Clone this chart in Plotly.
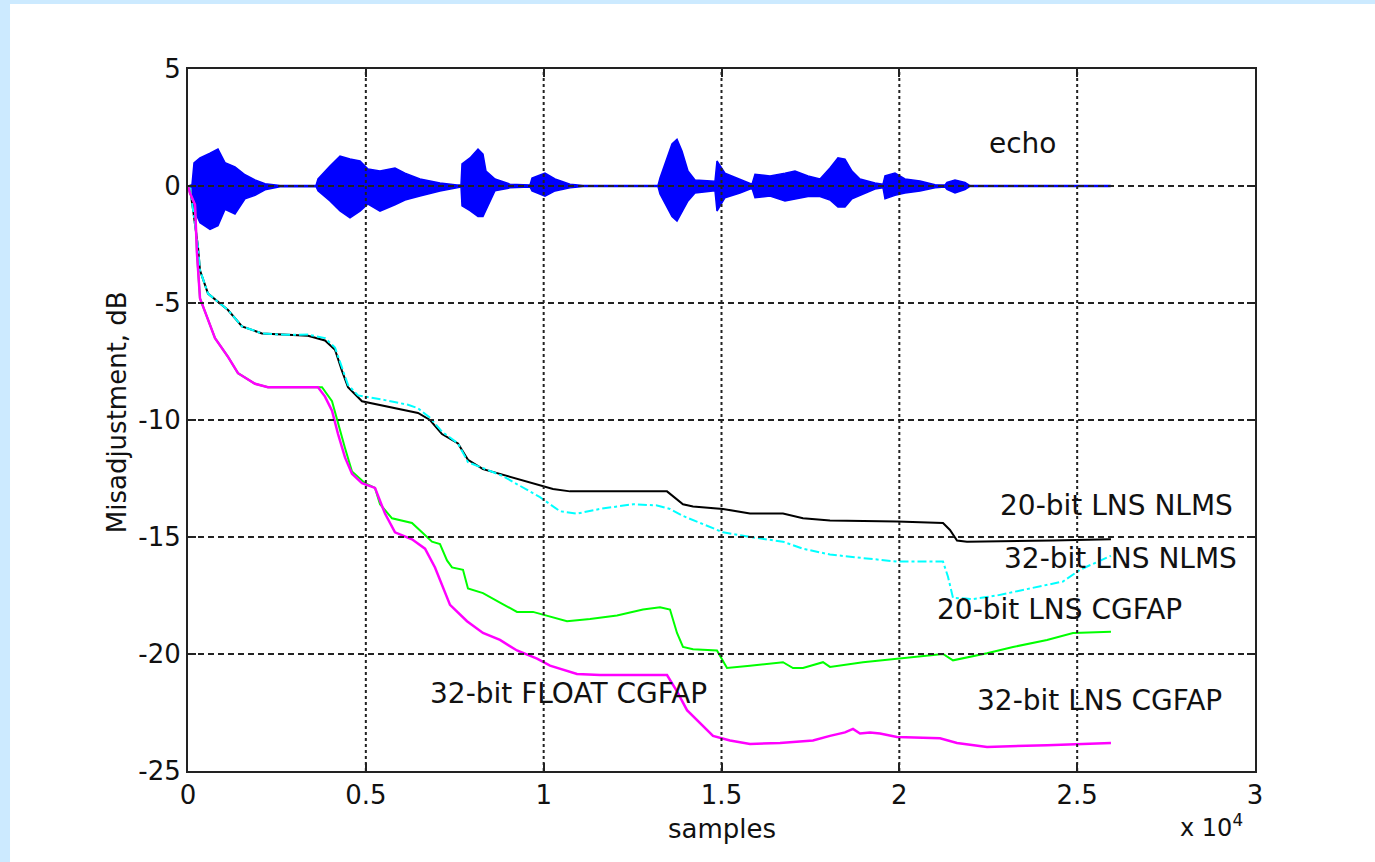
import plotly.graph_objects as go

# ---------------- data ----------------
# x tick values (samples) and labels (x 10^4)
x_tickvals = [0, 5000, 10000, 15000, 20000, 25000, 30000]
x_ticktext = ["0", "0.5", "1", "1.5", "2", "2.5", "3"]
y_tickvals = [-25, -20, -15, -10, -5, 0, 5]
y_ticktext = ["-25", "-20", "-15", "-10", "-5", "0", "5"]

# echo envelope (samples, upper, lower)
echo_x = [0, 112, 169, 337, 619, 843, 1040, 1321, 1603, 1884, 2165, 2587, 3599, 3655, 3992,
          4274, 4555, 4836, 5061, 5398, 5820, 6101, 6523, 7085, 7563, 7676, 7704, 7929, 8154,
          8294, 8379, 8632, 9053, 9616, 9672, 10037, 10319, 10740, 11106, 13215, 13271, 13411,
          13608, 13749, 13889, 14058, 14255, 14817, 14873, 15098, 15520, 15857, 15942, 16364,
          16785, 17066, 17432, 17769, 18050, 18275, 18472, 18669, 18894, 19316, 19541, 19597,
          19878, 20159, 20581, 21003, 21284, 21340, 21565, 21846, 21987, 25923]
echo_upper = [0, 0.05, 0.99, 1.2, 1.4, 1.58, 1.0, 0.82, 0.48, 0.26, 0.1, 0.02, 0.02, 0.3, 0.85,
              1.28, 1.15, 1.07, 0.73, 0.64, 0.77, 0.55, 0.3, 0.13, 0.04, 0.04, 0.94, 1.2, 1.58,
              1.36, 0.64, 0.3, 0.08, 0.04, 0.34, 0.55, 0.3, 0.08, 0.02, 0.02, 0.34, 0.94,
              1.8, 2.0, 1.5, 0.64, 0.26, 0.2, 1.07, 0.55, 0.3, 0.08, 0.5, 0.43,
              0.55, 0.64, 0.43, 0.3, 0.77, 1.2, 1.15, 0.64, 0.3, 0.13, 0.08, 0.43,
              0.55, 0.3, 0.21, 0.05, 0.04, 0.15, 0.26, 0.15, 0.02, 0.02]
echo_lower = [0, -0.05, -1.0, -1.57, -1.85, -1.7, -1.0, -1.2, -0.55, -0.4, -0.16, -0.03, -0.02, -0.2, -0.64,
              -1.07, -1.36, -1.07, -0.77, -1.07, -0.8, -0.6, -0.43, -0.21, -0.08, -0.04, -0.85, -1.05, -1.3,
              -1.3, -1.0, -0.2, -0.08, -0.04, -0.21, -0.43, -0.21, -0.08, -0.02, -0.02, -0.34, -0.75,
              -1.3, -1.5, -1.1, -0.64, -0.3, -0.2, -1.07, -0.5, -0.3, -0.1, -0.5, -0.43,
              -0.64, -0.55, -0.45, -0.45, -0.6, -0.9, -0.9, -0.55, -0.4, -0.13, -0.08, -0.55,
              -0.4, -0.3, -0.21, -0.08, -0.04, -0.15, -0.3, -0.15, -0.02, -0.02]

# 20-bit LNS NLMS (black)
nlms20_x = [0, 56, 141, 225, 281, 337, 562, 1125, 1518, 2081, 2727, 3374, 3852, 4133, 4330, 4499,
            4892, 5539, 6467, 6804, 7141, 7591, 7872, 8294, 9250, 9897, 10262, 10740, 13468, 13917,
            14199, 15042, 15801, 16729, 17291, 18050, 19934, 21228, 21424, 21621, 21902, 24320, 25950]
nlms20_y = [0, -0.1, -1.0, -2.0, -2.6, -3.6, -4.6, -5.3, -6.0, -6.3, -6.36, -6.4, -6.6, -7.0, -7.9, -8.6,
            -9.2, -9.4, -9.7, -10.0, -10.6, -11.0, -11.7, -12.1, -12.5, -12.8, -12.95, -13.05, -13.05, -13.6,
            -13.7, -13.8, -14.0, -14.0, -14.2, -14.3, -14.34, -14.4, -14.7, -15.15, -15.2, -15.15, -15.1]

# 32-bit LNS NLMS (cyan)
nlms32_x = [0, 56, 141, 225, 281, 337, 562, 1125, 1518, 2081, 2727, 3374, 3852, 4133, 4330, 4499,
            4780, 4976, 5539, 6186, 6467, 6804, 7141, 7591, 7872, 8856, 9897, 10459, 10937, 11584,
            12512, 13187, 13552, 13917, 14396, 15042, 15801, 16729, 17291, 18050, 18978, 19934,
            21228, 21368, 21509, 22071, 22746, 23674, 24601, 25079, 25950]
nlms32_y = [0, -0.1, -1.0, -2.0, -2.6, -3.6, -4.6, -5.3, -6.0, -6.3, -6.36, -6.35, -6.5, -6.9, -7.8, -8.5,
            -8.95, -9.0, -9.15, -9.35, -9.5, -9.9, -10.5, -11.0, -11.8, -12.4, -13.3, -13.9, -14.0, -13.8,
            -13.6, -13.65, -13.8, -14.1, -14.4, -14.8, -15.0, -15.2, -15.5, -15.75, -15.9, -16.05,
            -16.05, -16.7, -17.6, -17.65, -17.5, -17.2, -16.9, -16.4, -15.8]

# 20-bit LNS CGFAP (green)
cg20_x = [0, 56, 197, 253, 337, 534, 759, 1125, 1406, 1884, 2249, 3655, 3768, 4049, 4189, 4414, 4611,
          4977, 5258, 5399, 5736, 6298, 6579, 6860, 7085, 7282, 7423, 7732, 7872, 8294, 8772, 9250,
          9700, 10178, 10656, 11303, 12062, 12793, 13271, 13552, 13749, 13917, 14199, 14873, 15155,
          15801, 16729, 17010, 17291, 17854, 18050, 18978, 19934, 21228, 21509, 22465, 23196, 24152,
          24883, 25950]
cg20_y = [0, -0.3, -0.8, -2.9, -4.8, -5.6, -6.5, -7.3, -8.0, -8.45, -8.6, -8.6, -8.6, -9.2, -10.0, -11.2, -12.2,
          -12.7, -12.9, -13.6, -14.2, -14.4, -14.8, -15.2, -15.3, -16.0, -16.3, -16.4, -17.2, -17.4, -17.8, -18.2,
          -18.2, -18.4, -18.6, -18.5, -18.35, -18.1, -18.0, -18.1, -19.1, -19.7, -19.8, -19.85, -20.6,
          -20.5, -20.35, -20.6, -20.6, -20.35, -20.55, -20.35, -20.2, -20.0, -20.27, -19.97, -19.7, -19.4,
          -19.1, -19.05]

# 32-bit LNS / FLOAT CGFAP (magenta)
cg32_x = [0, 56, 197, 253, 337, 534, 759, 1125, 1406, 1884, 2249, 3655, 3852, 4049, 4218, 4414, 4611,
          4892, 5258, 5539, 5820, 6298, 6664, 6945, 7170, 7367, 7845, 8294, 8772, 9250, 9813, 10178,
          10937, 11584, 13468, 13749, 14030, 14396, 14761, 15239, 15801, 16645, 17572, 18050, 18472,
          18697, 18894, 19175, 19456, 19934, 21143, 21621, 22465, 24152, 25079, 25950]
cg32_y = [0, -0.3, -0.8, -2.9, -4.8, -5.6, -6.5, -7.3, -8.0, -8.45, -8.6, -8.6, -9.0, -9.6, -10.6, -11.6, -12.3,
          -12.7, -12.9, -14.0, -14.8, -15.1, -15.5, -16.3, -17.2, -17.9, -18.6, -19.1, -19.4, -19.85, -20.2, -20.5,
          -20.85, -20.9, -20.9, -21.6, -22.4, -22.96, -23.5, -23.7, -23.85, -23.8, -23.7, -23.5, -23.35,
          -23.2, -23.4, -23.35, -23.4, -23.55, -23.6, -23.8, -23.97, -23.9, -23.85, -23.8]

labels = ["echo", "20-bit LNS NLMS", "32-bit LNS NLMS", "20-bit LNS CGFAP",
          "32-bit LNS CGFAP", "32-bit FLOAT CGFAP"]
label_x = [23480, 26100, 26210, 24490, 25620, 10710]
label_y = [1.8, -13.66, -15.9, -18.1, -22.0, -21.7]

# ---------------- figure ----------------
FONT = "DejaVu Sans, Verdana, sans-serif"
TXT = "#111"
fig = go.Figure()

fig.add_trace(go.Scatter(
    x=echo_x + echo_x[::-1], y=echo_upper + echo_lower[::-1],
    mode="lines", fill="toself", fillcolor="#0000ff",
    line=dict(color="#0000ff", width=1.5), hoverinfo="skip", showlegend=False))

fig.add_trace(go.Scatter(x=nlms20_x, y=nlms20_y, mode="lines",
                         line=dict(color="black", width=2), showlegend=False))
fig.add_trace(go.Scatter(x=nlms32_x, y=nlms32_y, mode="lines",
                         line=dict(color="#00ffff", width=2, dash="dashdot"), showlegend=False))
fig.add_trace(go.Scatter(x=cg20_x, y=cg20_y, mode="lines",
                         line=dict(color="#00ff00", width=2), showlegend=False))
fig.add_trace(go.Scatter(x=cg32_x, y=cg32_y, mode="lines",
                         line=dict(color="#ff00ff", width=2.5), showlegend=False))

for t, lx, ly in zip(labels, label_x, label_y):
    fig.add_annotation(x=lx, y=ly, text=t, showarrow=False, xref="x", yref="y",
                       font=dict(family=FONT, size=28, color=TXT))

# gridlines drawn above traces (MATLAB style)
shapes = []
for xv in x_tickvals[1:-1]:
    shapes.append(dict(type="line", xref="x", yref="y", x0=xv, x1=xv, y0=-25, y1=5,
                       line=dict(color="#222", width=2, dash="3px,3px"), layer="above"))
for yv in y_tickvals[1:-1]:
    shapes.append(dict(type="line", xref="x", yref="y", x0=0, x1=30000, y0=yv, y1=yv,
                       line=dict(color="#222", width=2, dash="6px,4px"), layer="above"))
# white panel on light blue page
shapes.append(dict(type="rect", xref="paper", yref="paper", x0=-0.1668, x1=1.2, y0=-0.2, y1=1.0926,
                   fillcolor="white", line=dict(width=0), layer="below"))
fig.update_layout(shapes=shapes)

fig.add_annotation(x=0.5, y=-0.083, xref="paper", yref="paper", text="samples", showarrow=False,
                   font=dict(family=FONT, size=26, color=TXT), yanchor="middle")
fig.add_annotation(x=-0.0825, y=0.511, xref="paper", yref="paper", text="Misadjustment, dB",
                   textangle=-90, showarrow=False, font=dict(family=FONT, size=26, color=TXT))
fig.add_annotation(x=0.9906, y=-0.104, xref="paper", yref="paper", text="x 10<sup>4</sup>",
                   xanchor="right", showarrow=False, font=dict(family=FONT, size=24, color=TXT))

fig.update_xaxes(range=[0, 30000], tickvals=x_tickvals, ticktext=x_ticktext,
                 showgrid=False, zeroline=False, showline=True, linecolor="#222", linewidth=2,
                 mirror="ticks", ticks="inside", ticklen=8, tickwidth=2, tickcolor="#222",
                 tickfont=dict(family=FONT, size=26, color=TXT))
fig.update_yaxes(range=[-25, 5], tickvals=y_tickvals, ticktext=y_ticktext,
                 showgrid=False, zeroline=False, showline=True, linecolor="#222", linewidth=2,
                 mirror="ticks", ticks="inside", ticklen=8, tickwidth=2, tickcolor="#222",
                 tickfont=dict(family=FONT, size=26, color=TXT))

fig.update_layout(width=1375, height=862,
                  margin=dict(l=188, r=120, t=69, b=91),
                  paper_bgcolor="#cceaff", plot_bgcolor="white")

fig.write_html("out.html", config={"displayModeBar": False},
               post_script="document.body.style.margin='0';")
